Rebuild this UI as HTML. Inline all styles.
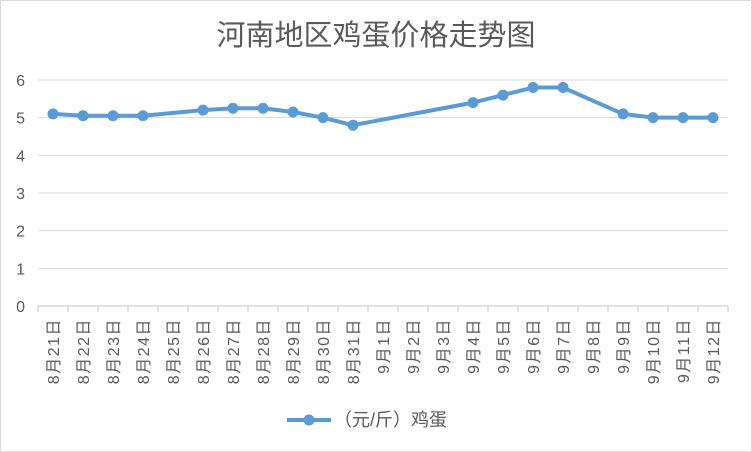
<!DOCTYPE html>
<html><head><meta charset="utf-8"><style>
body{margin:0;background:#fff}
svg{display:block;font-family:"Liberation Sans","Noto Sans CJK SC",sans-serif}
</style></head><body>
<svg id="c" width="752" height="452">
<rect x="0.5" y="0.5" width="751" height="451" fill="#fff" stroke="#d9d9d9"/>
<text x="376" y="45" text-anchor="middle" font-size="29" fill="#595959">河南地区鸡蛋价格走势图</text>
<g id="grid"></g><g id="axes"></g><g id="series"></g>
<g>
<line x1="287" y1="420" x2="331" y2="420" stroke="#5b9bd5" stroke-width="4"/>
<circle cx="309" cy="420" r="5.5" fill="#5b9bd5"/>
<text x="334" y="426" font-size="18" fill="#595959">（元/斤）鸡蛋</text>
</g>
</svg>
<script>
const categories=["8月21日","8月22日","8月23日","8月24日","8月25日","8月26日","8月27日","8月28日","8月29日","8月30日","8月31日","9月1日","9月2日","9月3日","9月4日","9月5日","9月6日","9月7日","9月8日","9月9日","9月10日","9月11日","9月12日"];
const prices=[5.1,5.05,5.05,5.05,null,5.2,5.25,5.25,5.15,5.0,4.8,null,null,null,5.4,5.6,5.8,5.8,null,5.1,5.0,5.0,5.0];
const yTicks=[0,1,2,3,4,5,6];
const NS="http://www.w3.org/2000/svg";
const x0=38,x1=728,y0=306,yTop=80,yMax=6;
const step=(x1-x0)/categories.length;
const xs=i=>x0+step*(i+0.5);
const ys=v=>y0-(v/yMax)*(y0-yTop);
function mk(t,a,p){const e=document.createElementNS(NS,t);for(const k in a)e.setAttribute(k,a[k]);p.appendChild(e);return e;}
const grid=document.getElementById('grid'),axes=document.getElementById('axes'),ser=document.getElementById('series');
yTicks.forEach(v=>{
 if(v>0){const g=mk('line',{x1:x0,x2:x1,y1:ys(v),y2:ys(v),stroke:'#d9d9d9'},grid);
 
 }
 const t=mk('text',{x:25,y:ys(v)+6,'text-anchor':'end','font-size':16,fill:'#595959'},axes);
 t.textContent=v;
 
 
});
const ax=mk('line',{x1:x0,x2:x1,y1:y0,y2:y0,stroke:'#d9d9d9','stroke-width':1.5},axes);


for(let i=0;i<=categories.length;i++){
 const tk=mk('line',{x1:x0+step*i,x2:x0+step*i,y1:y0,y2:y0+6,stroke:'#d9d9d9','stroke-width':1.5},axes);
 
 
}
categories.forEach((c,i)=>{
 const x=xs(i);
 const t=mk('text',{x:0,y:0,'text-anchor':'end','font-size':16,'letter-spacing':1.5,fill:'#595959',transform:`translate(${x+6},318) rotate(-90)`},axes);
 t.textContent=c;
 
 
});
const pts=prices.map((v,i)=>v==null?null:[xs(i),ys(v)]).filter(p=>p);
const pl=mk('polyline',{points:pts.map(p=>p.join(',')).join(' '),fill:'none',stroke:'#5b9bd5','stroke-width':4,'stroke-linejoin':'round'},ser);


prices.forEach((v,i)=>{if(v==null)return;
 const c=mk('circle',{cx:xs(i),cy:ys(v),r:5.5,fill:'#5b9bd5'},ser);
 
 
});
</script>
</body></html>
